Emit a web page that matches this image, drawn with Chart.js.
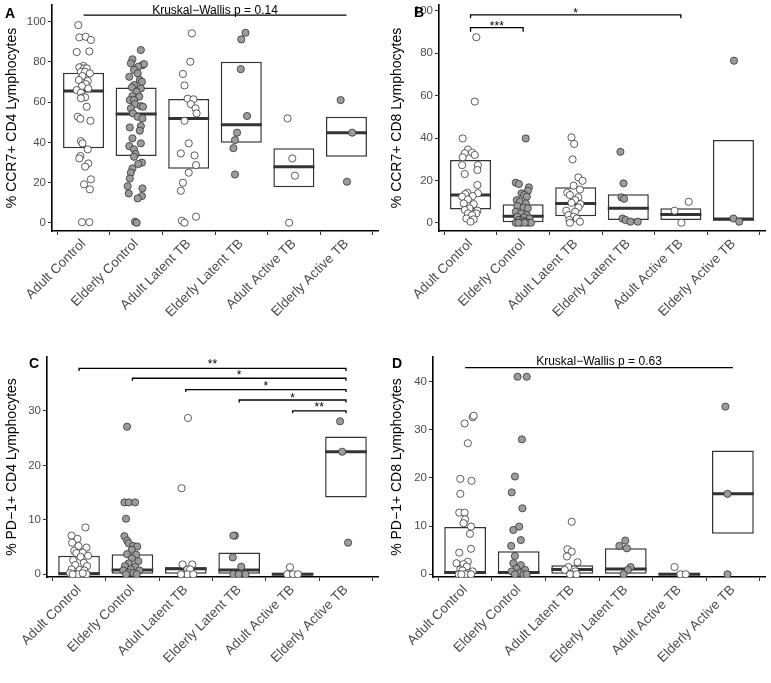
<!DOCTYPE html>
<html>
<head>
<meta charset="utf-8">
<script src="https://cdn.jsdelivr.net/npm/chart.js@4.4.1/dist/chart.umd.min.js"></script>
<style>
  body { margin: 0; background: #fff; width: 771px; height: 683px; position: relative; overflow: hidden; }
  canvas { position: absolute; }
  .tag { position: absolute; font: bold 14px "Liberation Sans", Arial, sans-serif; line-height: 14px; color: #000; }
</style>
</head>
<body>
<canvas id="chartA" width="385" height="335" style="left:0;top:0"></canvas>
<canvas id="chartB" width="386" height="335" style="left:385px;top:0"></canvas>
<canvas id="chartC" width="385" height="348" style="left:0;top:335px"></canvas>
<canvas id="chartD" width="386" height="348" style="left:385px;top:335px"></canvas>
<div class="tag" style="left:5px;top:6px">A</div>
<div class="tag" style="left:414px;top:5px">B</div>
<div class="tag" style="left:29px;top:356px">C</div>
<div class="tag" style="left:392px;top:356px">D</div>
<script>
const groups = ['Adult Control', 'Elderly Control', 'Adult Latent TB', 'Elderly Latent TB', 'Adult Active TB', 'Elderly Active TB'];
const elderly = [false, true, false, true, false, true];

// boxes: [q1, median, q3] per group
const boxesA = [[37, 65.5, 74.6], [33.2, 54.1, 67.3], [26.9, 51.9, 61.5], [39.8, 48.8, 80.1], [17.6, 27.9, 37], [32.8, 44.8, 52.7]];
const boxesB = [[6.3, 13.1, 29.6], [0, 3.1, 8.7], [3.1, 9.1, 16.7], [1.3, 6.8, 13.5], [1.3, 3.9, 6.8], [0.9, 1.8, 39.1]];
const boxesC = [[0, 0.1, 3.4], [0, 0.8, 3.7], [0, 1.0, 1.3], [0, 0.8, 4.0], [0, 0, 0.3], [14.1, 22.5, 25.3]];
const boxesD = [[0, 0.35, 9.8], [0, 0.35, 4.8], [0, 1.0, 1.9], [0, 1.1, 5.4], [0, 0, 0.3], [8.4, 16.7, 25.7]];

// jittered points: [value, horizontal jitter] per group
const pointsA = [
  [[98.3,-.10],[92.2,-.08],[92.5,.04],[90.9,.14],[84.9,-.13],[85.2,.11],[78,0],[77.3,-.08],[76.8,.01],[76.8,.06],[75.1,-.05],[75.1,.03],[74.3,.12],[73,-.02],[71,-.09],[70.6,.08],[69,.04],[68,-.03],[66,-.13],[66.8,.09],[64.7,-.05],[62.4,-.02],[62.4,.03],[61.9,-.05],[57.7,.06],[52.7,-.11],[51.7,-.06],[50.7,.13],[40.6,-.05],[39.5,-.02],[36.5,.08],[33.2,-.06],[32,-.08],[29.5,.09],[27.9,.03],[21.6,.14],[19.1,.01],[16.6,.12],[0.3,-.03],[0.3,.11]],
  [[85.9,.09],[81.3,-.07],[79.3,-.10],[78.4,.12],[78.9,.15],[77.6,.04],[76,-.04],[72.6,-.13],[74.3,.03],[71,.07],[70.1,.11],[68.5,-.04],[67.3,-.08],[66.8,.09],[65.2,.01],[63,-.07],[62.7,.06],[61,-.12],[61,-.04],[59,-.02],[58,.09],[57.7,.13],[56.9,-.10],[54.4,-.06],[52.7,.03],[51.9,.12],[47.4,-.12],[48.1,.09],[45.8,.07],[42,-.07],[39.5,.09],[38.1,-.13],[36.5,-.04],[34.2,-.01],[32.8,-.04],[29.9,.11],[29.2,.04],[27,-.07],[24.9,-.10],[22,-.12],[18.2,-.16],[17.1,.12],[14.6,-.14],[13.3,.11],[12.1,.03],[0.5,-.02],[0,.01]],
  [[94.2,.06],[80.1,.03],[74,-.11],[68.3,-.08],[61.7,-.02],[61.4,.09],[59,.04],[56.9,.13],[54.4,.15],[50.7,-.08],[39.5,0],[34.5,-.15],[33.5,.11],[28.7,.14],[24.9,0],[19.9,-.11],[15.9,-.15],[1,-.13],[0,-.08],[3,.14]],
  [[94.5,.08],[91.2,0],[76.4,-.01],[53.1,.11],[44.8,-.08],[41.1,-.12],[37.1,-.15],[24,-.12]],
  [[51.9,-.12],[32,-.03],[23.4,.02],[0,-.09]],
  [[61,-.11],[44.8,.11],[20.4,.01]]
];
const pointsB = [
  [[87.6,.11],[57.2,.08],[39.8,-.15],[34.6,-.05],[32.8,-.11],[33.1,.03],[32,.08],[30.9,-.15],[27.2,.14],[27.2,-.16],[24.9,.13],[23,-.11],[17.8,.13],[14.2,-.06],[13.5,-.10],[13.9,.14],[12.6,.04],[12.3,-.16],[11,-.05],[9.1,-.13],[8.8,.06],[6.8,-.02],[6,-.11],[5.7,.13],[4.4,-.05],[4.4,.11],[3.6,.03],[2,-.08],[1.6,.06],[0.5,0]],
  [[39.8,.05],[18.9,-.14],[18.3,-.08],[16.7,.11],[15.1,.09],[13.9,-.03],[13.1,.02],[12.3,.07],[10.7,-.12],[9.9,-.06],[9.1,.05],[7.9,-.11],[7.2,.01],[6.8,.09],[5.2,-.14],[4.4,-.04],[3.6,.07],[2.8,-.11],[2.5,.02],[2,.12],[1.3,-.08],[0.9,-.01],[0.5,.05],[0,-.14],[0,-.04],[0,.09],[0,.15],[0,.03],[0,-.09]],
  [[40.3,-.08],[37.2,-.03],[29.9,-.06],[21.4,.05],[19.8,.13],[17.5,-.04],[15.7,.08],[14.2,-.16],[13.1,-.11],[12,.05],[10.7,-.01],[8.8,.09],[9.4,-.08],[7.2,.05],[5.7,-.18],[5.2,-.01],[3.6,-.14],[2.8,-.04],[2,.02],[1.3,-.12],[0.5,.08],[0,-.11]],
  [[33.5,-.15],[18.6,-.09],[12,-.13],[11.3,-.08],[2,-.11],[1.3,-.05],[0.5,.04],[0.5,.18]],
  [[9.9,.15],[5.7,-.12],[0,.01]],
  [[76.5,.01],[2,0],[0.5,.11]]
];
const pointsC = [
  [[8.6,.12],[7.1,-.14],[6.5,-.03],[5.8,-.13],[4.9,.14],[5.2,-.01],[4.3,-.09],[3.9,-.05],[4,.07],[3.4,.17],[3.2,.03],[2.6,-.11],[2.1,.09],[1.7,-.07],[1.5,.15],[0.9,-.14],[0.8,.01],[0.7,.10],[0.2,-.17],[0,-.08],[0,.04],[0,-.02],[0,.14],[0,-.12],[0.2,.07]],
  [[27.1,-.10],[13.2,-.15],[13.2,-.07],[13.2,.05],[10.2,-.12],[7,-.15],[6.2,-.10],[5.7,-.07],[5.2,.01],[5.1,.09],[4.5,-.01],[3.7,-.10],[3.6,.07],[2.9,-.01],[2.4,.11],[2,-.07],[1.5,-.14],[1.4,.05],[0.9,-.03],[0.7,-.17],[0.7,.13],[0.3,-.07],[0.2,.02],[0,.08],[0,-.12]],
  [[28.7,.04],[15.8,-.08],[1.8,-.06],[1.8,.12],[0.9,.03],[0.9,.08],[0,-.04],[0,.03],[0,.14],[0,-.09]],
  [[7.1,-.08],[7.1,-.11],[3.1,-.12],[1.4,.04],[0,-.11],[0,-.01],[0,.12]],
  [[1.3,-.05],[0,-.10],[0,.01],[0,.10]],
  [[28.1,-.11],[22.5,-.07],[5.8,.04]]
];
const pointsD = [
  [[32.6,.14],[32.9,.16],[31.3,-.01],[27.2,.05],[19.8,-.09],[19.4,.12],[16.7,-.09],[12.8,-.11],[12.8,-.01],[11.4,0],[10.6,-.03],[9.9,.11],[8.4,.09],[5.3,.11],[4.5,-.11],[2.3,-.16],[2.6,.05],[2.1,-.03],[1.6,.03],[1,-.09],[0.6,.14],[0.8,-.05],[0.2,.06],[0,-.12],[0,0],[0,-.07],[0,.11]],
  [[41,-.02],[41,.15],[28,.06],[20.3,-.07],[17,-.13],[13.7,.07],[9.2,-.10],[9.9,.01],[7.1,.04],[5.9,-.14],[3.8,-.07],[2.3,-.10],[1.9,.04],[1.2,-.04],[0.9,.12],[0.6,-.13],[0.3,.02],[0,-.07],[0,.09],[0,.15]],
  [[10.9,-.01],[5.2,-.09],[4.7,-.01],[3.7,-.10],[2.5,.10],[1.5,-.07],[1,.04],[0.9,-.14],[0.6,.06],[0,-.04],[0,.08]],
  [[7,-.01],[5.9,-.12],[5.4,.02],[1.5,.09],[0.9,.04],[0,-.04]],
  [[1.5,-.09],[0,.02],[0,.12]],
  [[34.8,-.14],[16.7,-.10],[0,-.10]]
];

const yTicksA = [0, 20, 40, 60, 80, 100];
const yTicksB = [0, 20, 40, 60, 80, 100];
const yTicksC = [0, 10, 20, 30];
const yTicksD = [0, 10, 20, 30, 40];

// comparison brackets: [from group, to group, height, tip]
const bracketsA = [[1, 6, 103.3, 0]];
const bracketsB = [[1, 2, 92.1, 1.9], [1, 5, 98.1, 1.6]];
const bracketsC = [[1, 6, 37.8, 0.45], [2, 6, 36.0, 0.45], [3, 6, 33.9, 0.45], [4, 6, 32.0, 0.45], [5, 6, 30.0, 0.45]];
const bracketsD = [[1, 6, 42.9, 0]];

// labels above brackets: [x, y baseline, text]
const notesA = [[3.5, 104.0, 'Kruskal\u2212Wallis p = 0.14']];
const notesB = [[1.5, 90.9, '***'], [3, 97.2, '*']];
const notesC = [[3.5, 37.8, '**'], [4, 35.9, '*'], [4.5, 33.8, '*'], [5, 31.7, '*'], [5.5, 29.9, '**']];
const notesD = [[3.5, 43.4, 'Kruskal\u2212Wallis p = 0.63']];

const FONT = '"Liberation Sans", Arial, sans-serif';
Chart.defaults.font.family = FONT;
const BOX_W = 0.78;

const notesPlugin = {
  id: 'notes',
  afterDatasetsDraw(chart, args, opts) {
    const { ctx, scales: { x, y } } = chart;
    ctx.save();
    ctx.fillStyle = '#000';
    ctx.textAlign = 'center';
    ctx.textBaseline = 'alphabetic';
    ctx.font = '12px ' + FONT;
    (opts.items || []).forEach(n => {
      ctx.fillText(n[2], x.getPixelForValue(n[0]), y.getPixelForValue(n[1]));
    });
    ctx.restore();
  }
};

function makePanel(id, p) {
  const pts = [], fills = [];
  p.points.forEach((grp, gi) => grp.forEach(([v, dx]) => {
    pts.push({ x: gi + 1 + dx, y: v });
    fills.push(elderly[gi] ? '#9c9c9c' : '#ffffff');
  }));

  const bracketSets = p.brackets.map(([a, b, h, tip]) => ({
    type: 'line',
    data: [{ x: a, y: h - tip }, { x: a, y: h }, { x: b, y: h }, { x: b, y: h - tip }],
    borderColor: '#000', borderWidth: 1.3, pointRadius: 0, fill: false, tension: 0, order: 3
  }));

  const axisGrid = { display: true, drawOnChartArea: false, drawTicks: true, tickLength: 4, color: '#333', lineWidth: 1 };
  const axisBorder = { display: true, color: '#000', width: 1.6 };

  return new Chart(document.getElementById(id), {
    type: 'bar',
    data: {
      datasets: [
        {
          type: 'scatter', data: pts, order: 0,
          pointRadius: 3.6, pointBackgroundColor: fills, pointBorderColor: '#333', pointBorderWidth: 0.8
        },
        {
          type: 'scatter', order: 1,
          data: p.boxes.map((b, i) => ({ x: i + 1, y: b[1] })),
          pointStyle: 'line', pointBorderColor: '#333', pointBorderWidth: 3,
          pointRadius: c => {
            const sx = c.chart.scales.x;
            return sx.getPixelForValue(1 + BOX_W / 2) - sx.getPixelForValue(1);
          }
        },
        {
          type: 'bar', order: 2,
          data: p.boxes.map((b, i) => ({ x: i + 1, y: [b[0], b[2]] })),
          backgroundColor: '#fff', borderColor: '#333', borderWidth: 1.5, borderSkipped: false,
          barPercentage: BOX_W, categoryPercentage: 1
        },
        ...bracketSets
      ]
    },
    options: {
      responsive: false,
      animation: false,
      events: [],
      layout: { padding: p.padding },
      plugins: { legend: { display: false }, tooltip: { enabled: false }, notes: { items: p.notes } },
      scales: {
        x: {
          type: 'linear', min: 0.4, max: 6.6, offset: false,
          grid: axisGrid, border: axisBorder,
          ticks: {
            autoSkip: false, minRotation: 45, maxRotation: 45, padding: 1,
            color: '#4d4d4d', font: { size: 13.5 },
            callback: v => groups[v - 1] || ''
          },
          afterBuildTicks: s => { s.ticks = groups.map((g, i) => ({ value: i + 1 })); },
          afterFit: s => { s.height = p.xHeight; s.paddingLeft = 0; s.paddingRight = 0; }
        },
        y: {
          type: 'linear', min: p.yMin, max: p.yMax,
          grid: axisGrid, border: axisBorder,
          ticks: { color: '#4d4d4d', font: { size: 11.5 }, padding: 2 },
          title: { display: true, text: p.title, color: '#000', font: { size: 14 }, padding: { top: 4, bottom: 0 } },
          afterBuildTicks: s => { s.ticks = p.yTicks.map(v => ({ value: v })); },
          afterFit: s => { s.width = p.yWidth; s.paddingTop = 0; s.paddingBottom = 0; }
        }
      }
    },
    plugins: [notesPlugin]
  });
}

makePanel('chartA', {
  boxes: boxesA, points: pointsA, brackets: bracketsA, notes: notesA, yTicks: yTicksA,
  yMin: -4.1, yMax: 108.3, title: '% CCR7+ CD4 Lymphocytes',
  yWidth: 52, xHeight: 104, padding: { top: 5, right: 7, left: 0, bottom: 0 }
});
makePanel('chartB', {
  boxes: boxesB, points: pointsB, brackets: bracketsB, notes: notesB, yTicks: yTicksB,
  yMin: -3.9, yMax: 102.8, title: '% CCR7+ CD8 Lymphocytes',
  yWidth: 54, xHeight: 104, padding: { top: 5, right: 6, left: 0, bottom: 0 }
});
makePanel('chartC', {
  boxes: boxesC, points: pointsC, brackets: bracketsC, notes: notesC, yTicks: yTicksC,
  yMin: -0.5, yMax: 39.9, title: '% PD\u22121+ CD4 Lymphocytes',
  yWidth: 47, xHeight: 106, padding: { top: 22, right: 7, left: 0, bottom: 0 }
});
makePanel('chartD', {
  boxes: boxesD, points: pointsD, brackets: bracketsD, notes: notesD, yTicks: yTicksD,
  yMin: -0.56, yMax: 45.1, title: '% PD\u22121+ CD8 Lymphocytes',
  yWidth: 48, xHeight: 106, padding: { top: 22, right: 6, left: 0, bottom: 0 }
});
</script>
</body>
</html>
